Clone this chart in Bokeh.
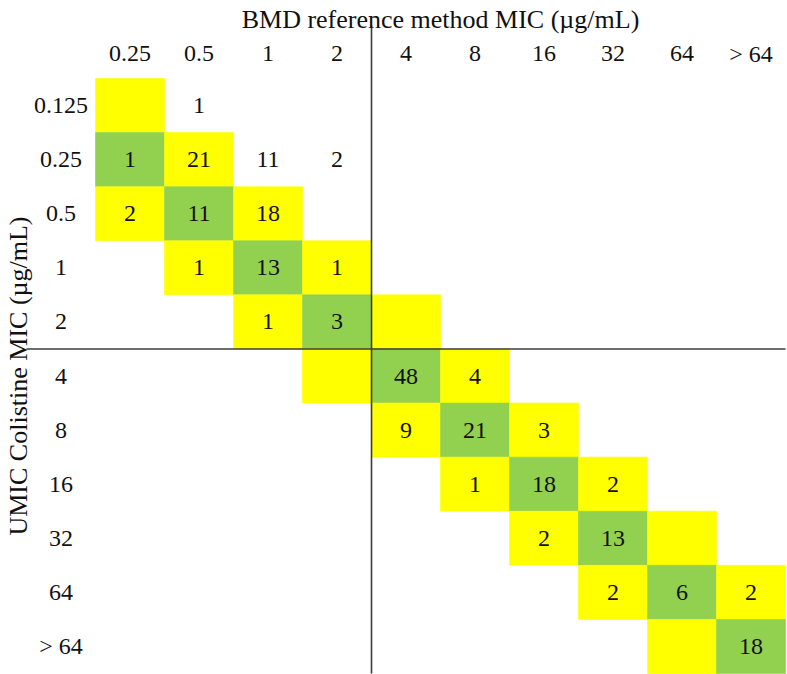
import math
from bokeh.plotting import figure
from bokeh.models import Range1d
from bokeh.core.properties import value
from bokeh.embed import file_html
from bokeh.resources import INLINE

# ---- data ----
bmd_labels = ["0.25", "0.5", "1", "2", "4", "8", "16", "32", "64", "> 64"]
umic_labels = ["0.125", "0.25", "0.5", "1", "2", "4", "8", "16", "32", "64", "> 64"]

# non-empty cells: (UMIC row label, BMD column label, count)
cell_umic = ["0.125", "0.25", "0.25", "0.25", "0.25", "0.5", "0.5", "0.5",
             "1", "1", "1", "2", "2", "4", "4", "8", "8", "8",
             "16", "16", "16", "32", "32", "64", "64", "64", "> 64"]
cell_bmd = ["0.5", "0.25", "0.5", "1", "2", "0.25", "0.5", "1",
            "0.5", "1", "2", "1", "2", "4", "8", "4", "8", "16",
            "8", "16", "32", "16", "32", "32", "64", "> 64", "> 64"]
cell_count = [1, 1, 21, 11, 2, 2, 11, 18,
              1, 13, 1, 1, 3, 48, 4, 9, 21, 3,
              1, 18, 2, 2, 13, 2, 6, 2, 18]

x_title = "BMD reference method MIC (\u00b5g/mL)"
y_title = "UMIC Colistine MIC (\u00b5g/mL)"
breakpoint_label = "4"

GREEN = "#92D050"
YELLOW = "#FFFF00"
FONT = value("Liberation Serif")
TXT = "#111111"

ncol = len(bmd_labels)
nrow = len(umic_labels)

# essential-agreement shading: same dilution (green) or +/- one dilution (yellow)
rx, ry, rc = [], [], []
for r in range(nrow):
    for c in range(ncol):
        d = c - (r - 1)
        if d == 0:
            rx.append(c); ry.append(r); rc.append(GREEN)
        elif abs(d) == 1:
            rx.append(c); ry.append(r); rc.append(YELLOW)

W, H = 787, 674
p = figure(width=W, height=H,
           x_range=Range1d(-1.877, ncol - 0.5 + 0.029),
           y_range=Range1d(nrow - 0.5 + 0.018, -1.942),
           output_backend="svg", toolbar_location=None,
           x_axis_location=None, y_axis_location=None,
           min_border=0)
p.grid.visible = False
p.outline_line_color = None
p.background_fill_color = "white"

p.rect(x=rx, y=ry, width=1, height=1, fill_color=rc, line_color=rc, line_width=0.6)

bx = bmd_labels.index(breakpoint_label) - 0.5
by = umic_labels.index(breakpoint_label) - 0.5
p.segment(x0=[bx], y0=[-1.48], x1=[bx], y1=[nrow - 0.5], line_color="#3c3c3c", line_width=1.6)
p.segment(x0=[-1.5], y0=[by], x1=[ncol - 0.5], y1=[by], line_color="#3c3c3c", line_width=1.6)

# numbers in cells
tx = [bmd_labels.index(b) for b in cell_bmd]
ty = [umic_labels.index(u) for u in cell_umic]
p.text(x=tx, y=ty, text=[str(v) for v in cell_count], text_font=FONT,
       text_font_size="24px", text_align="center", text_baseline="middle",
       text_color=TXT)

# column labels (header row) and row labels (label column)
p.text(x=list(range(ncol)), y=[-0.96] * ncol, text=bmd_labels, text_font=FONT,
       text_font_size="24px", text_align="center", text_baseline="middle",
       text_color=TXT)
p.text(x=[-1] * nrow, y=list(range(nrow)), text=umic_labels, text_font=FONT,
       text_font_size="24px", text_align="center", text_baseline="middle",
       text_color=TXT)

# titles
p.text(x=[(ncol - 1) / 2], y=[-1.591], text=[x_title], text_font=FONT,
       text_font_size="26px", text_align="center", text_baseline="alphabetic",
       text_color=TXT)
p.text(x=[-1.62], y=[(nrow - 1) / 2], text=[y_title], text_font=FONT,
       text_font_size="26px", text_align="center", text_baseline="middle",
       angle=math.pi / 2, text_color=TXT)

open("out.html", "w").write(file_html(p, INLINE))
